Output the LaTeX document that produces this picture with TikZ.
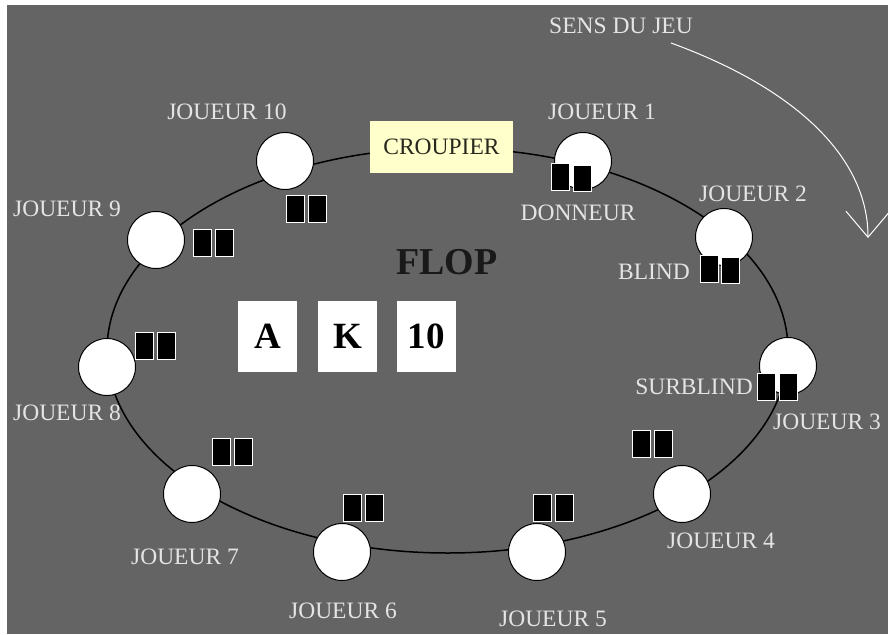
\documentclass[tikz,border=0pt]{standalone}
\usepackage{fontspec}
\setmainfont{Liberation Serif}
\usetikzlibrary{calc, arrows.meta}

\definecolor{tapis}{RGB}{100,100,100}
\definecolor{clair}{RGB}{228,228,228}
\definecolor{jaune}{RGB}{255,255,204}

\begin{document}
\begin{tikzpicture}[
		x=1pt, y=-1pt,
		joueur/.style={circle,draw=black,fill=white,line width=1pt,minimum size=57pt,inner sep=0pt},
		carte/.style={rectangle,draw=white,fill=black,line width=1.2pt,minimum width=17.5pt,minimum height=26.5pt,inner sep=0pt},
		etiq/.style={text=clair,inner sep=0pt,font=\fontsize{23.5}{26}\selectfont},
		flop/.style={rectangle,fill=white,minimum width=59pt,minimum height=71pt,inner sep=0pt,font=\fontsize{37}{40}\selectfont\bfseries}]
		\useasboundingbox (0,0) rectangle (888,634);
		\fill[white] (0,0) rectangle (888,634);
		\fill[tapis] (7,5) rectangle (888,634);
		% la table
		\draw[line width=1.5pt] (447.5,350.5) ellipse [x radius=340.5, y radius=202.5];
		\node[rectangle,fill=jaune,minimum width=143pt,minimum height=52pt,inner sep=0pt,
			text={rgb,255:red,40;green,40;blue,30},font=\fontsize{23.5}{26}\selectfont]
			(croupier) at (441.5,147) {CROUPIER};
		% les joueurs
		\node[joueur] (j1)  at (583,161) {};
		\node[joueur] (j2)  at (724,237) {};
		\node[joueur] (j3)  at (788,366) {};
		\node[joueur] (j4)  at (682,494) {};
		\node[joueur] (j5)  at (537,552) {};
		\node[joueur] (j6)  at (342,552) {};
		\node[joueur] (j7)  at (192,494) {};
		\node[joueur] (j8)  at (107,367) {};
		\node[joueur] (j9)  at (156,240) {};
		\node[joueur] (j10) at (285,161) {};
		% les cartes
		\node[carte] (c1a)  at (560.5,177) {};
		\node[carte] (c1b)  at ($ (c1a)  + (22,1.5) $) {};
		\node[carte] (c2a)  at (709.5,269) {};
		\node[carte] (c2b)  at ($ (c2a)  + (21,1.5) $) {};
		\node[carte] (c3a)  at (766.5,387) {};
		\node[carte] (c3b)  at ($ (c3a)  + (22,0) $) {};
		\node[carte] (c4a)  at (641.5,444) {};
		\node[carte] (c4b)  at ($ (c4a)  + (22,0) $) {};
		\node[carte] (c5a)  at (542.5,508) {};
		\node[carte] (c5b)  at ($ (c5a)  + (22,0) $) {};
		\node[carte] (c6a)  at (352.5,508) {};
		\node[carte] (c6b)  at ($ (c6a)  + (22,0) $) {};
		\node[carte] (c7a)  at (221.5,452) {};
		\node[carte] (c7b)  at ($ (c7a)  + (22,0) $) {};
		\node[carte] (c8a)  at (144.5,346) {};
		\node[carte] (c8b)  at ($ (c8a)  + (22,0) $) {};
		\node[carte] (c9a)  at (202.5,243) {};
		\node[carte] (c9b)  at ($ (c9a)  + (22,0) $) {};
		\node[carte] (c10a) at (295.5,209) {};
		\node[carte] (c10b) at ($ (c10a) + (22,0) $) {};
		% noms
		\node[etiq] (n1)  at (602,112) {JOUEUR 1};
		\node[etiq] (n2)  at (753,194) {JOUEUR 2};
		\node[etiq] (n3)  at (827,422) {JOUEUR 3};
		\node[etiq] (n4)  at (721,541) {JOUEUR 4};
		\node[etiq] (n5)  at (553,619) {JOUEUR 5};
		\node[etiq] (n6)  at (343,611) {JOUEUR 6};
		\node[etiq] (n7)  at (185,557) {JOUEUR 7};
		\node[etiq] (n8)  at (67,413)  {JOUEUR 8};
		\node[etiq] (n9)  at (67,209)  {JOUEUR 9};
		\node[etiq] (n10) at (227,112) {JOUEUR 10};
		\node[etiq] (donneur)   at (578,213) {DONNEUR};
		\node[etiq] (blind)     at (654,272) {BLIND};
		\node[etiq] (surblind)  at (694,387) {SURBLIND};
		\node[etiq] (sens)      at (621,26)  {SENS DU JEU};
		% le flop
		\node[font=\fontsize{38}{40}\selectfont\bfseries,text=black!90] (titre) at (447,262) {FLOP};
		\node[flop] (fa)  at (267.5,336.5) {A};
		\node[flop] (fk)  at (347.5,336.5) {K};
		\node[flop] (f10) at (426,336.5)   {10};
		% sens du jeu
		\coordinate (debut) at (671,43);
		\coordinate (fin)   at (868,238);
		\draw[white,line width=1pt,-{Straight Barb[length=26pt,width=44pt]}]
			(debut) .. controls (800,90) and (868,160) .. (fin);
\end{tikzpicture}
\end{document}
